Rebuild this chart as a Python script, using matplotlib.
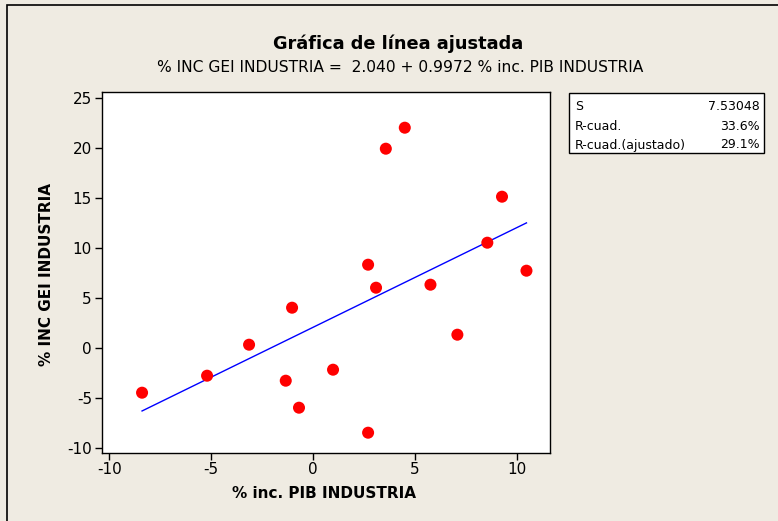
import numpy as np
import matplotlib
matplotlib.use("Agg")
import matplotlib.pyplot as plt
from matplotlib.patches import Rectangle

plt.rcParams['font.family'] = ['DejaVu Sans']
plt.rcParams['axes.unicode_minus'] = False

# datos
pib_ind = [-8.39, -5.20, -3.14, -1.34, -1.03, -0.69, 0.98, 2.70, 2.70, 3.09,
           3.57, 4.50, 5.76, 7.08, 8.55, 9.27, 10.47]
gei_ind = [-4.5, -2.8, 0.3, -3.3, 4.0, -6.0, -2.2, 8.3, -8.5, 6.0,
           19.9, 22.0, 6.3, 1.3, 10.5, 15.1, 7.7]
intercepto = 2.040
pendiente = 0.9972
stat_names = ['S', 'R-cuad.', 'R-cuad.(ajustado)']
stat_values = ['7.53048', '33.6%', '29.1%']
xticks = [-10, -5, 0, 5, 10]
yticks = [-10, -5, 0, 5, 10, 15, 20, 25]

W, H = 778, 521
bg = '#EFEBE2'
fig = plt.figure(figsize=(W / 100, H / 100), dpi=100, facecolor=bg)

# marco exterior (solo se ven el borde izquierdo y el superior)
fig.patches.append(Rectangle((7 / W, -1), 2, 2 - 5 / H, transform=fig.transFigure,
                             fill=False, edgecolor='black', linewidth=1.2))

ax = fig.add_axes([101.7 / W, 1 - 452.7 / H, (549.5 - 101.7) / W, (452.7 - 92.3) / H])
ax.set_facecolor('white')

ax.scatter(pib_ind, gei_ind, s=75, color='red', zorder=3, edgecolors='none')
xs = np.linspace(min(pib_ind), max(pib_ind), 50)
ax.plot(xs, intercepto + pendiente * xs, color='blue', linewidth=1.0, zorder=2)

ax.set_xlim(-10.37, 11.6)
ax.set_ylim(-10.5, 25.54)
ax.set_xticks(xticks)
ax.set_yticks(yticks)
ax.tick_params(direction='out', length=5, width=1, labelsize=11, pad=2, colors='black')
for s in ax.spines.values():
    s.set_linewidth(1)

fig.text(398 / W, 1 - 44 / H, 'Gráfica de línea ajustada', ha='center', va='center',
         fontsize=12.8, fontweight='bold')
fig.text(400 / W, 1 - 67 / H, '% INC GEI INDUSTRIA =  2.040 + 0.9972 % inc. PIB INDUSTRIA',
         ha='center', va='center', fontsize=11.2)
fig.text(324 / W, 1 - 493 / H, '% inc. PIB INDUSTRIA', ha='center', va='center',
         fontsize=11, fontweight='bold')
fig.text(47 / W, 1 - 274 / H, '% INC GEI INDUSTRIA', ha='center', va='center',
         rotation=90, fontsize=11, fontweight='bold')

# cuadro de estadísticas
fig.patches.append(Rectangle((569 / W, 1 - 153 / H), (764 - 569) / W, 60 / H,
                             transform=fig.transFigure, facecolor='white',
                             edgecolor='black', linewidth=1))
row_y = [106, 126, 145]
for name, val, y in zip(stat_names, stat_values, row_y):
    fig.text(575 / W, 1 - y / H, name, ha='left', va='center', fontsize=9)
    fig.text(760 / W, 1 - y / H, val, ha='right', va='center', fontsize=9)

fig.savefig('out.png', dpi=100, facecolor=bg)
